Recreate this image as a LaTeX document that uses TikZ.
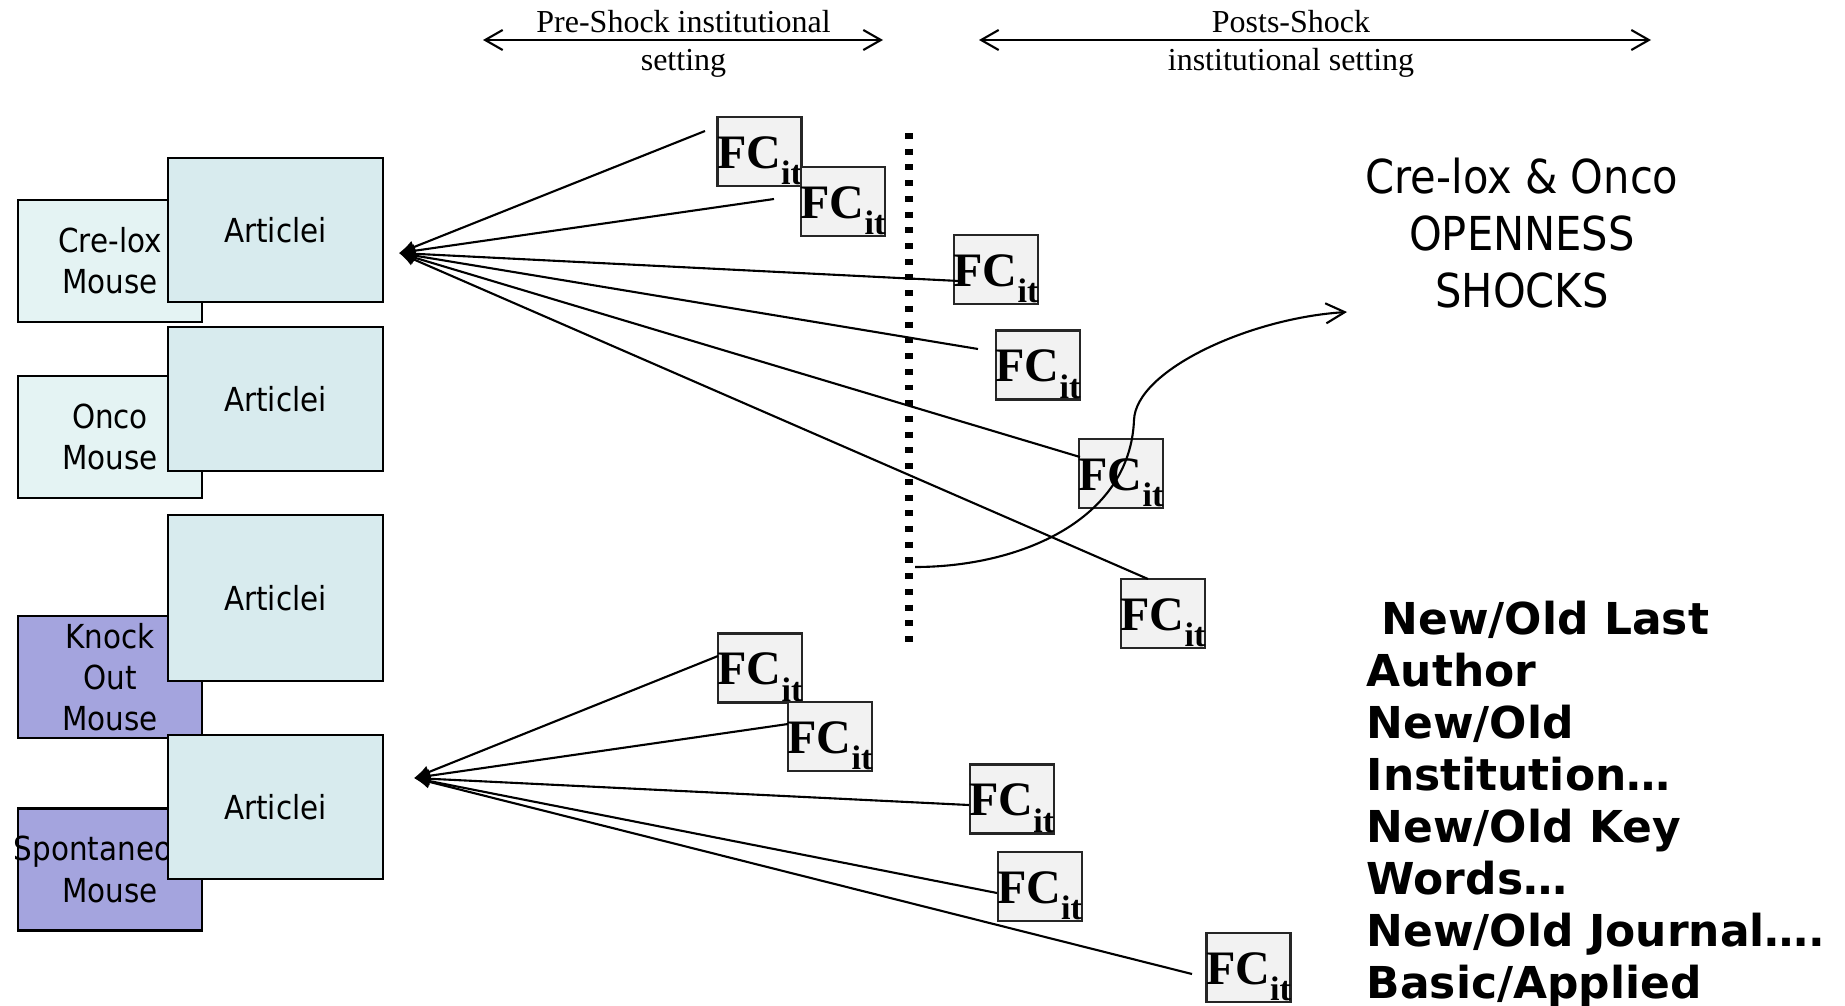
\documentclass[tikz,border=0pt]{standalone}
\usepackage{fontspec}
\setmainfont{Liberation Serif}
\newfontfamily\tahoma[FakeStretch=0.89]{DejaVu Sans}
\newfontfamily\verdana{DejaVu Sans}
\usetikzlibrary{arrows.meta}
\definecolor{mousecyan}{RGB}{228,243,243}
\definecolor{mousepurple}{RGB}{164,164,222}
\definecolor{articlecyan}{RGB}{216,235,238}
\definecolor{fcgray}{RGB}{242,242,242}
\newcommand{\FCit}{\makebox[0pt]{\bfseries\fontsize{13.66pt}{14pt}\selectfont FC\raisebox{-4.8pt}{\fontsize{9.7pt}{10pt}\selectfont it}}}

\begin{document}
\begin{tikzpicture}[x=0.01cm,y=-0.01cm,
	mouse/.style={shape=rectangle,draw=black,line width=0.6pt,inner sep=0pt,minimum width=1.84cm,minimum height=1.22cm,align=center,font={\tahoma\fontsize{9.4pt}{11.7pt}\selectfont}},
	article/.style={shape=rectangle,draw=black,fill=articlecyan,line width=0.6pt,inner sep=0pt,minimum width=2.15cm,minimum height=1.44cm,font={\tahoma\fontsize{9.4pt}{11.7pt}\selectfont}},
	fcbox/.style={shape=rectangle,draw=black!85,fill=fcgray,line width=0.6pt,inner sep=0pt,minimum width=0.84cm,minimum height=0.69cm,text height=0.51cm,text depth=0.18cm},
	fan/.style={-{Latex[length=4.5pt,width=3.8pt]},line width=0.6pt,black},
	span/.style={{Straight Barb[length=5pt,width=5.7pt]}-{Straight Barb[length=5pt,width=5.7pt]},line width=0.6pt,black},
	header/.style={inner sep=0pt,align=center,font={\fontsize{9.1pt}{11pt}\selectfont}}]
				\useasboundingbox (0,0) rectangle (1845,1006);
				
				\node[mouse,fill=mousecyan] (crelox) at (110,261) {Cre-lox\\Mouse};
				\node[mouse,fill=mousecyan] (onco) at (110,437) {Onco\\Mouse};
				\node[mouse,fill=mousepurple] (knockout) at (110,677) {Knock\\Out\\Mouse};
				\node[mouse,fill=mousepurple] (spont) at (110,869.5) {\makebox[0pt]{Spontaneous}\\Mouse};
				
				\node[article] (artA) at (275.5,230) {Articlei};
				\node[article] (artB) at (275.5,399) {Articlei};
				\node[article,minimum height=1.66cm] (artC) at (275.5,598) {Articlei};
				\node[article] (artD) at (275.5,807) {Articlei};
				
				\node[fcbox] (fcA) at (759.5,151.5) {\FCit};
				\node[fcbox] (fcB) at (843,201.5) {\FCit};
				\node[fcbox] (fcC) at (996,269.5) {\FCit};
				\node[fcbox] (fcD) at (1038,365) {\FCit};
				\node[fcbox] (fcE) at (1121,473.5) {\FCit};
				\node[fcbox] (fcF) at (1163,613.5) {\FCit};
				\node[fcbox] (fcG) at (760,668) {\FCit};
				\node[fcbox] (fcH) at (830,736.5) {\FCit};
				\node[fcbox] (fcI) at (1011.7,799) {\FCit};
				\node[fcbox] (fcJ) at (1039.6,886.5) {\FCit};
				\node[fcbox] (fcK) at (1248.5,967.5) {\FCit};
				
				\coordinate (divtop) at (909,133);
				\coordinate (divbot) at (909,642);
				\draw[line width=2.3pt,dash pattern=on 1.7pt off 2.77pt] (divtop) -- (divbot);
				
				\coordinate (hubA) at (399,253);
				\coordinate (endA) at (705,131);
				\coordinate (endB) at (774,199);
				\coordinate (endC) at (959,281);
				\coordinate (endD) at (978,349);
				\coordinate (endE) at (1080,457);
				\coordinate (endF) at (1148,579);
				\path [fan] (endA) edge (hubA);
				\path [fan] (endB) edge (hubA);
				\path [fan] (endC) edge (hubA);
				\path [fan] (endD) edge (hubA);
				\path [fan] (endE) edge (hubA);
				\path [fan] (endF) edge (hubA);
				
				\coordinate (hubB) at (414,778);
				\coordinate (endG) at (718,656);
				\coordinate (endH) at (788,724);
				\coordinate (endI) at (969,805);
				\coordinate (endJ) at (997,893);
				\coordinate (endK) at (1192,974);
				\path [fan] (endG) edge (hubB);
				\path [fan] (endH) edge (hubB);
				\path [fan] (endI) edge (hubB);
				\path [fan] (endJ) edge (hubB);
				\path [fan] (endK) edge (hubB);
				
				\coordinate (shockfrom) at (915,567);
				\coordinate (shockbend) at (1134,420);
				\coordinate (shockto) at (1347,312);
				\draw[-{Straight Barb[length=5.4pt,width=5.7pt]},line width=0.6pt] (shockfrom) .. controls (1020,567) and (1130,520) .. (shockbend) .. controls (1136,370) and (1250,318) .. (shockto);
				
				\coordinate (preL) at (483,40);
				\coordinate (preR) at (883,40);
				\coordinate (postL) at (979,40);
				\coordinate (postR) at (1651,40);
				\draw[span] (preL) -- (preR);
				\draw[span] (postL) -- (postR);
				\node[header] (pre) at (683.5,44) {Pre-Shock institutional\\setting};
				\node[header] (post) at (1291,44) {Posts-Shock\\institutional setting};
				
				\node[inner sep=0pt,align=center,font={\tahoma\fontsize{13.3pt}{16.2pt}\selectfont}] (shocks) at (1522,233) {Cre-lox \& Onco\\OPENNESS\\SHOCKS};
				\node[inner sep=0pt,anchor=west,align=left,font={\verdana\bfseries\fontsize{12.5pt}{14.8pt}\selectfont}] (outcomes) at (1366,804.5) {\hspace*{0.15cm}New/Old Last\\Author\\New/Old\\Institution…\\New/Old Key\\Words…\\New/Old Journal….\\Basic/Applied};
\end{tikzpicture}
\end{document}
